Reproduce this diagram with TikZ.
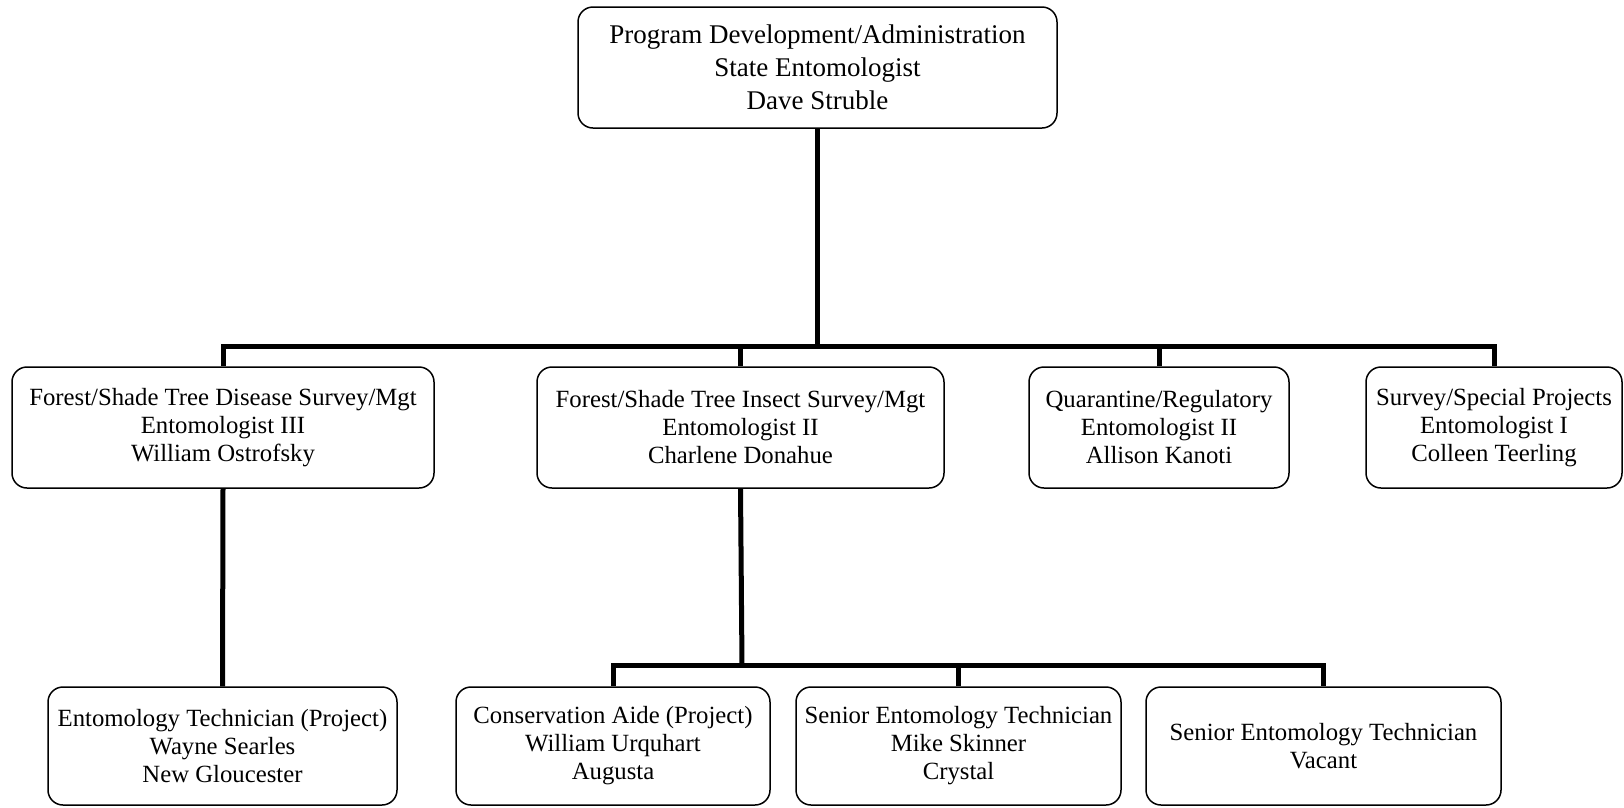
\documentclass[tikz,border=0pt]{standalone}
\usepackage{fontspec}
\setmainfont{Liberation Serif}
\begin{document}
\begin{tikzpicture}[x=1pt,y=-1pt,
  box/.style={draw=black, line width=1.5pt, rounded corners=15pt, inner sep=0pt,
    align=center, font=\fontsize{24.75}{28}\selectfont},
  topbox/.style={box, font=\fontsize{27}{33}\selectfont},
  conn/.style={draw=black, line width=5pt}]
\useasboundingbox (0,0) rectangle (1624,807);
\fill[white] (0,0) rectangle (1624,807);

\node[topbox, minimum width=479pt, minimum height=121pt] (top) at (817.5,67.5)
  {Program Development/Administration\\State Entomologist\\Dave Struble};

\node[box, minimum width=422pt, minimum height=121pt] (b1) at (223,427.5)
  {Forest/Shade Tree Disease Survey/Mgt\\Entomologist III\\William Ostrofsky};
\node[box, minimum width=407pt, minimum height=121pt] (b2) at (740.5,427.5)
  {Forest/Shade Tree Insect Survey/Mgt\\Entomologist II\\Charlene Donahue};
\node[box, minimum width=260pt, minimum height=121pt] (b3) at (1159,427.5)
  {Quarantine/Regulatory\\Entomologist II\\Allison Kanoti};
\node[box, minimum width=256pt, minimum height=121pt] (b4) at (1494,427.5)
  {Survey/Special Projects\\Entomologist I\\Colleen Teerling};

\node[box, minimum width=349pt, minimum height=118pt] (c1) at (222.5,746)
  {Entomology Technician (Project)\\Wayne Searles\\New Gloucester};
\node[box, minimum width=314pt, minimum height=118pt] (c2) at (613,746)
  {Conservation Aide (Project)\\William Urquhart\\Augusta};
\node[box, minimum width=325pt, minimum height=118pt] (c3) at (958.5,746)
  {Senior Entomology Technician\\Mike Skinner\\Crystal};
\node[box, minimum width=355pt, minimum height=118pt] (c4) at (1323.5,746)
  {Senior Entomology Technician\\Vacant};

\coordinate (j1) at (817.5,346);
\coordinate (j2) at (742,665.5);

\draw[conn] (top.south) -- (j1);
\draw[conn] (b1.north) |- (j1) -| (b4.north);
\draw[conn] (b2.north) -- (b2.north |- j1);
\draw[conn] (b3.north) -- (b3.north |- j1);

\draw[conn] (b1.south) -- (c1.north);
\draw[conn] (b2.south) -- (j2);
\draw[conn] (c2.north) |- (j2) -| (c4.north);
\draw[conn] (c3.north) -- (c3.north |- j2);
\end{tikzpicture}
\end{document}
